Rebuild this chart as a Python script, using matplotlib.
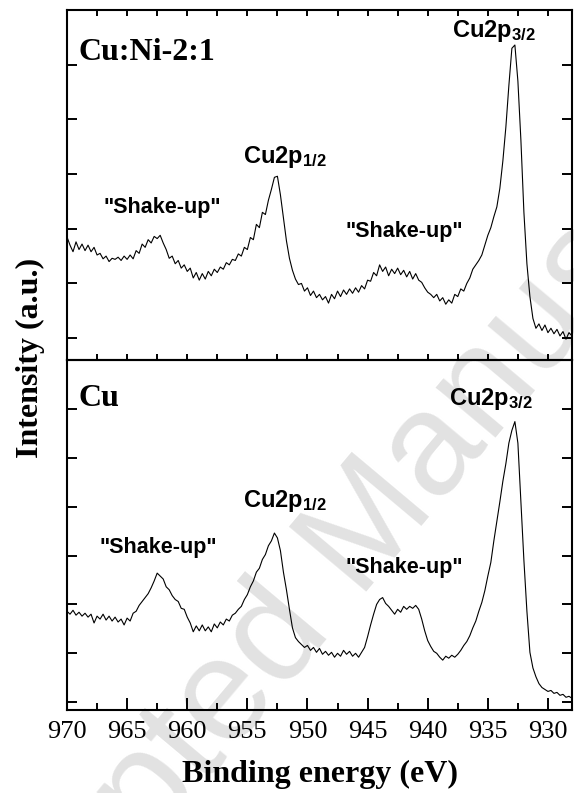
import numpy as np
import matplotlib
matplotlib.use("Agg")
import matplotlib.pyplot as plt
from matplotlib.ticker import MultipleLocator

# Binding energy grid (eV), 970 -> 928 in 0.25 eV steps
energy = np.arange(970.0, 927.99, -0.25)

# Cu 2p spectrum of the Cu:Ni-2:1 sample (a.u.), one row per eV
cuni_intensity = [
    2.85, 2.70, 2.58, 2.76,   # 970
    2.62, 2.72, 2.60, 2.70,   # 969
    2.58, 2.66, 2.52, 2.55,   # 968
    2.45, 2.50, 2.40, 2.46,   # 967
    2.44, 2.48, 2.42, 2.50,   # 966
    2.44, 2.52, 2.45, 2.60,   # 965
    2.55, 2.72, 2.66, 2.80,   # 964
    2.74, 2.86, 2.82, 2.88,   # 963
    2.74, 2.62, 2.46, 2.50,   # 962
    2.36, 2.42, 2.28, 2.34,   # 961
    2.22, 2.28, 2.10, 2.20,   # 960
    2.06, 2.18, 2.08, 2.22,   # 959
    2.14, 2.26, 2.20, 2.30,   # 958
    2.26, 2.38, 2.34, 2.44,   # 957
    2.42, 2.54, 2.50, 2.66,   # 956
    2.62, 2.84, 2.80, 3.08,   # 955
    3.02, 3.30, 3.26, 3.52,   # 954
    3.72, 3.94, 3.96, 3.62,   # 953
    3.20, 2.78, 2.46, 2.24,   # 952
    2.08, 1.98, 2.00, 1.86,   # 951
    1.92, 1.78, 1.86, 1.74,   # 950
    1.80, 1.70, 1.76, 1.64,   # 949
    1.80, 1.72, 1.86, 1.76,   # 948
    1.88, 1.80, 1.90, 1.82,   # 947
    1.92, 1.84, 1.96, 1.90,   # 946
    2.06, 2.04, 2.20, 2.14,   # 945
    2.34, 2.22, 2.30, 2.14,   # 944
    2.26, 2.18, 2.28, 2.16,   # 943
    2.24, 2.12, 2.22, 2.08,   # 942
    2.18, 2.06, 2.02, 1.92,   # 941
    1.84, 1.80, 1.74, 1.80,   # 940
    1.68, 1.74, 1.62, 1.70,   # 939
    1.64, 1.80, 1.76, 1.90,   # 938
    1.86, 2.00, 2.10, 2.26,   # 937
    2.34, 2.42, 2.52, 2.70,   # 936
    2.88, 3.02, 3.22, 3.40,   # 935
    3.74, 4.24, 4.86, 5.62,   # 934
    6.30, 6.36, 5.70, 4.62,   # 933
    3.30, 2.36, 1.76, 1.36,   # 932
    1.18, 1.26, 1.14, 1.24,   # 931
    1.10, 1.18, 1.08, 1.16,   # 930
    1.04, 1.12, 0.98, 1.10,   # 929
    1.04,                     # 928
]

# Cu 2p spectrum of the pure Cu sample (a.u.)
cu_intensity = [
    1.86, 1.80, 1.88, 1.78,   # 970
    1.84, 1.76, 1.82, 1.74,   # 969
    1.80, 1.62, 1.76, 1.70,   # 968
    1.80, 1.68, 1.76, 1.66,   # 967
    1.74, 1.64, 1.70, 1.58,   # 966
    1.72, 1.66, 1.82, 1.86,   # 965
    1.98, 2.06, 2.14, 2.22,   # 964
    2.34, 2.48, 2.64, 2.58,   # 963
    2.52, 2.36, 2.30, 2.18,   # 962
    2.10, 2.06, 1.92, 1.90,   # 961
    1.74, 1.62, 1.44, 1.56,   # 960
    1.46, 1.58, 1.46, 1.54,   # 959
    1.44, 1.60, 1.52, 1.64,   # 958
    1.58, 1.70, 1.66, 1.78,   # 957
    1.82, 1.90, 1.96, 2.10,   # 956
    2.20, 2.36, 2.48, 2.66,   # 955
    2.74, 2.92, 3.02, 3.20,   # 954
    3.30, 3.46, 3.36, 3.10,   # 953
    2.66, 2.30, 1.90, 1.52,   # 952
    1.32, 1.24, 1.18, 1.12,   # 951
    1.16, 1.06, 1.12, 1.02,   # 950
    1.10, 0.98, 1.04, 0.96,   # 949
    1.02, 0.92, 1.00, 0.94,   # 948
    1.06, 0.98, 1.04, 0.94,   # 947
    1.00, 0.92, 1.02, 1.12,   # 946
    1.34, 1.58, 1.80, 2.00,   # 945
    2.10, 2.14, 2.02, 1.96,   # 944
    1.88, 1.80, 1.90, 1.84,   # 943
    1.96, 1.90, 1.96, 1.92,   # 942
    1.98, 1.90, 1.70, 1.46,   # 941
    1.26, 1.14, 1.04, 1.00,   # 940
    0.92, 0.86, 0.94, 0.90,   # 939
    0.96, 0.92, 0.98, 1.06,   # 938
    1.16, 1.24, 1.36, 1.52,   # 937
    1.66, 1.86, 2.04, 2.28,   # 936
    2.58, 2.86, 3.30, 3.70,   # 935
    4.10, 4.52, 4.88, 5.30,   # 934
    5.56, 5.74, 5.30, 4.10,   # 933
    2.90, 1.86, 1.02, 0.70,   # 932
    0.52, 0.38, 0.30, 0.26,   # 931
    0.22, 0.24, 0.18, 0.20,   # 930
    0.14, 0.16, 0.10, 0.12,   # 929
    0.08,                     # 928
]

panel_labels = ["Cu:Ni-2:1", "Cu"]
x_ticks = [970, 965, 960, 955, 950, 945, 940, 935, 930]

plt.rcParams["mathtext.fontset"] = "custom"
plt.rcParams["mathtext.rm"] = "Liberation Sans:bold"
plt.rcParams["mathtext.it"] = "Liberation Sans:bold"
plt.rcParams["mathtext.bf"] = "Liberation Sans:bold"

W, H = 574, 793
fig = plt.figure(figsize=(W / 100, H / 100), dpi=100)

# Watermark behind the panels
fig.text(0.611, 0.305, "Accepted Manuscript", fontsize=105, color="#e2e2e2",
         family="Liberation Sans", rotation=50, ha="center", va="center",
         zorder=-5)

left, width = 67 / W, 505 / W
ax_top = fig.add_axes([left, 1 - 360 / H, width, 350 / H])
ax_bot = fig.add_axes([left, 1 - 710 / H, width, 350 / H])

serif = "Liberation Serif"
sans = "Liberation Sans"
lw_spine = 1.5

for ax in (ax_top, ax_bot):
    ax.set_facecolor("none")
    for s in ax.spines.values():
        s.set_linewidth(lw_spine)
    ax.set_xlim(970, 928)
    ax.tick_params(axis="y", which="both", direction="in", left=True,
                   right=True, length=7, width=1.4, labelleft=False)

ax_top.plot(energy, cuni_intensity, color="black", lw=0.8)
ax_bot.plot(energy, cu_intensity, color="black", lw=0.8)

# Upper panel
ax_top.set_ylim(0.6, 7.0)
ax_top.set_yticks([1, 2, 3, 4, 5, 6])
ax_top.xaxis.set_major_locator(MultipleLocator(2.5))
ax_top.tick_params(axis="x", which="both", direction="in", top=True,
                   bottom=True, length=4.5, width=1.4, labelbottom=False)

# Lower panel
ax_bot.set_ylim(-0.16, 7.0)
ax_bot.set_yticks([0, 1, 2, 3, 4, 5, 6])
ax_bot.set_xticks(x_ticks)
ax_bot.xaxis.set_minor_locator(MultipleLocator(2.5))
ax_bot.tick_params(axis="x", which="major", direction="in", top=False,
                   bottom=True, length=8.5, width=1.4, pad=8,
                   labelsize=19)
ax_bot.tick_params(axis="x", which="minor", direction="in", top=False,
                   bottom=True, length=5, width=1.4)
for lab in ax_bot.get_xticklabels():
    lab.set_family(serif)

# Panel names
ax_top.text(0.022, 0.857, panel_labels[0], transform=ax_top.transAxes,
            family=serif, weight="bold", fontsize=23, ha="left",
            va="baseline")
ax_bot.text(0.022, 0.869, panel_labels[1], transform=ax_bot.transAxes,
            family=serif, weight="bold", fontsize=23, ha="left",
            va="baseline")

# Peak annotations
ann = dict(family=sans, weight="bold", fontsize=17, ha="left", va="baseline")
ax_top.text(0.762, 0.923, r"Cu2p$_{3/2}$", transform=ax_top.transAxes, **ann)
ax_top.text(0.349, 0.563, r"Cu2p$_{1/2}$", transform=ax_top.transAxes, **ann)
ax_bot.text(0.756, 0.871, r"Cu2p$_{3/2}$", transform=ax_bot.transAxes, **ann)
ax_bot.text(0.349, 0.580, r"Cu2p$_{1/2}$", transform=ax_bot.transAxes, **ann)

sh = dict(family=sans, weight="bold", fontsize=15.5, ha="center",
          va="baseline")
ax_top.text(0.188, 0.420, '"Shake-up"', transform=ax_top.transAxes, **sh)
ax_top.text(0.667, 0.351, '"Shake-up"', transform=ax_top.transAxes, **sh)
ax_bot.text(0.180, 0.449, '"Shake-up"', transform=ax_bot.transAxes, **sh)
ax_bot.text(0.667, 0.391, '"Shake-up"', transform=ax_bot.transAxes, **sh)

# Axis titles
fig.text(319.5 / W, 1 - 782 / H, "Binding energy (eV)", family=serif,
         weight="bold", fontsize=23, ha="center", va="baseline")
fig.text(30 / W, 1 - 358 / H, "Intensity (a.u.)", family=serif,
         weight="bold", fontsize=23, rotation=90, ha="center", va="center")

fig.savefig("out.png", dpi=100)
